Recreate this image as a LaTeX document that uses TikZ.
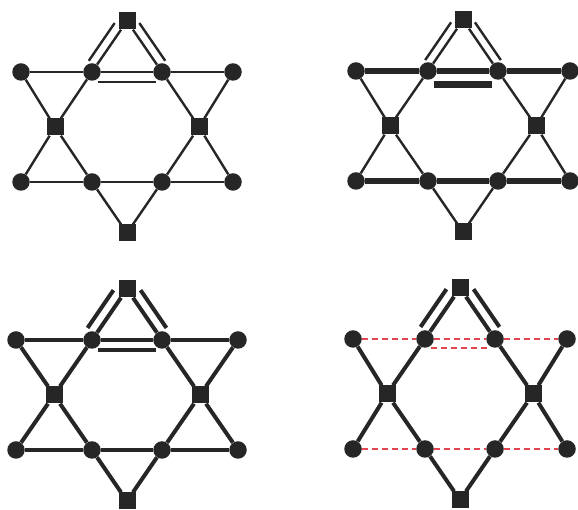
\documentclass[tikz,border=0pt]{standalone}
\usetikzlibrary{calc}
\definecolor{ink}{HTML}{262626}
\definecolor{redd}{HTML}{E2464E}
\tikzset{
  x=1pt,y=1pt,
  cir/.style={circle,fill=ink,draw=none,minimum size=17.5pt,inner sep=0pt},
  sqn/.style={rectangle,fill=ink,draw=none,minimum size=17pt,inner sep=0pt},
  thinln/.style={draw=ink,line width=2.4pt},
  thickln/.style={draw=ink,line width=4pt},
  boldln/.style={draw=ink,line width=6pt},
  redln/.style={draw=redd,line width=2.2pt,dash pattern=on 6pt off 4pt},
}
% #1 prefix, #2 outer x, #3 square x
\newcommand{\kagnodes}[3]{%
  \node[sqn] (#1T) at (0,106) {};
  \node[sqn] (#1B) at (0,-106) {};
  \node[sqn] (#1L) at (-#3,0) {};
  \node[sqn] (#1R) at (#3,0) {};
  \node[cir] (#1OTL) at (-#2,55) {};
  \node[cir] (#1ITL) at (-35,55) {};
  \node[cir] (#1ITR) at (35,55) {};
  \node[cir] (#1OTR) at (#2,55) {};
  \node[cir] (#1OBL) at (-#2,-55) {};
  \node[cir] (#1IBL) at (-35,-55) {};
  \node[cir] (#1IBR) at (35,-55) {};
  \node[cir] (#1OBR) at (#2,-55) {};
}
\newcommand{\kagdiag}[2]{%
  \draw[#2] (#1T) -- (#1ITL) -- (#1L) -- (#1OBL);
  \draw[#2] (#1T) -- (#1ITR) -- (#1R) -- (#1OBR);
  \draw[#2] (#1B) -- (#1IBL) -- (#1L) -- (#1OTL);
  \draw[#2] (#1B) -- (#1IBR) -- (#1R) -- (#1OTR);
}
\newcommand{\kaghor}[2]{%
  \draw[#2] (#1OTL) -- (#1ITL) -- (#1ITR) -- (#1OTR);
  \draw[#2] (#1OBL) -- (#1IBL) -- (#1IBR) -- (#1OBR);
}
% #1 prefix, #2 slanted style, #3 offset, #4 horizontal style, #5 horizontal offset
\newcommand{\kagmarks}[5]{%
  \draw[#2] ($(#1T)!0.14!(#1ITL)!#3!-90:(#1ITL)$) -- ($(#1T)!0.88!(#1ITL)!#3!-90:(#1ITL)$);
  \draw[#2] ($(#1T)!0.14!(#1ITR)!#3!90:(#1ITR)$) -- ($(#1T)!0.88!(#1ITR)!#3!90:(#1ITR)$);
  \draw[#4] ($(#1ITL)!0.08!(#1ITR)!#5!-90:(#1ITR)$) -- ($(#1ITL)!0.92!(#1ITR)!#5!-90:(#1ITR)$);
}
\begin{document}
\begin{tikzpicture}
\useasboundingbox (0,0) rectangle (578,510);
% panel 1
\begin{scope}[shift={(127,383)}]
  \kagnodes{a}{106}{72}
\end{scope}
\kagdiag{a}{thinln}
\kaghor{a}{thinln}
\kagmarks{a}{thinln}{9pt}{thinln}{10pt}
% panel 2
\begin{scope}[shift={(463,384)}]
  \kagnodes{b}{107}{73}
\end{scope}
\kagdiag{b}{thinln}
\kaghor{b}{boldln}
\kagmarks{b}{thinln}{8.5pt}{draw=ink,line width=7pt}{14pt}
% panel 3
\begin{scope}[shift={(127,115)}]
  \kagnodes{c}{111}{73}
\end{scope}
\kagdiag{c}{thickln}
\kaghor{c}{thickln}
\kagmarks{c}{thickln}{10.5pt}{thickln}{10pt}
% panel 4
\begin{scope}[shift={(460,116)}]
  \kagnodes{d}{107}{73}
\end{scope}
\kagdiag{d}{thickln}
\kaghor{d}{redln}
\kagmarks{d}{thickln}{10.5pt}{redln}{9pt}
\end{tikzpicture}
\end{document}
